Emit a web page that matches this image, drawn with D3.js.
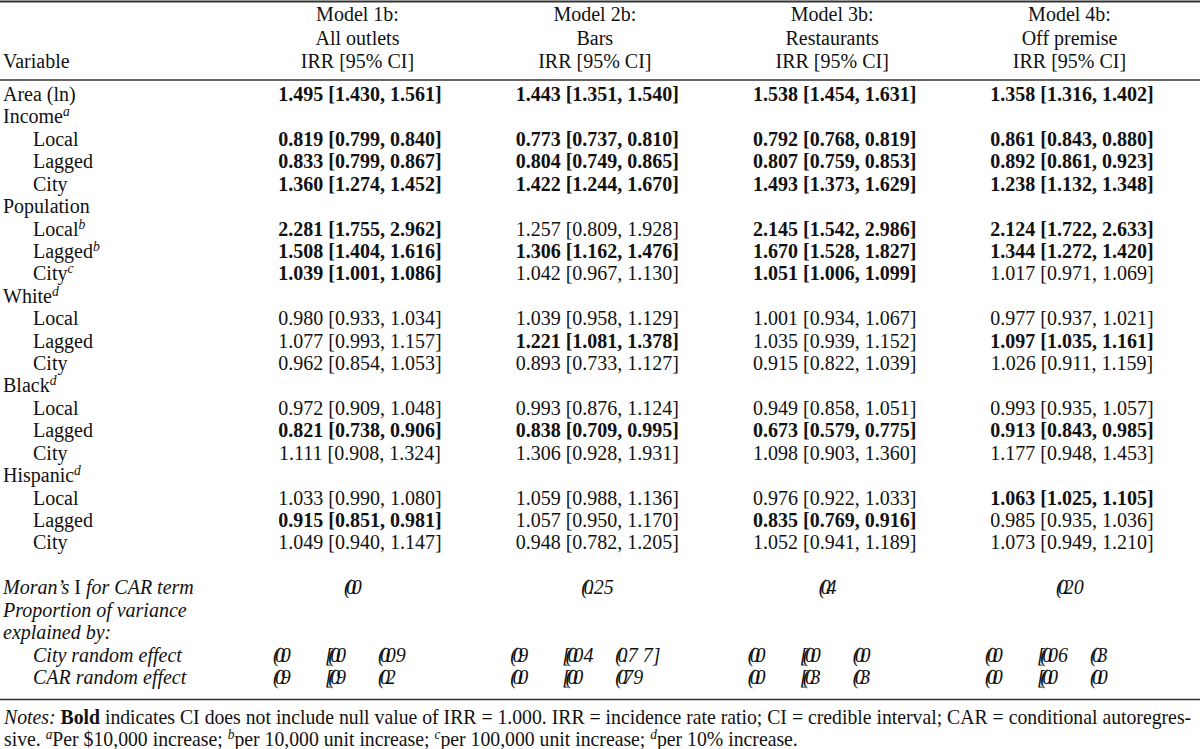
<!DOCTYPE html>
<html>
<head>
<meta charset="utf-8">
<script src="https://cdn.jsdelivr.net/npm/d3@7/dist/d3.min.js"></script>
<style>
  html, body { margin: 0; padding: 0; background: #fff; }
  svg { display: block; }
  text { font-family: "Liberation Serif", "Times New Roman", serif; fill: #111; }
</style>
</head>
<body>
<script>
// ---------------- DATA ----------------
const modelTitles = ["Model 1b:", "Model 2b:", "Model 3b:", "Model 4b:"];
const modelSubtitles = ["All outlets", "Bars", "Restaurants", "Off premise"];
const statLabel = "IRR [95% CI]";

const rowLabels = ["Area (ln)", "Income", "Local", "Lagged", "City",
  "Population", "Local", "Lagged", "City",
  "White", "Local", "Lagged", "City",
  "Black", "Local", "Lagged", "City",
  "Hispanic", "Local", "Lagged", "City"];
const rowSup = ["", "a", "", "", "", "", "b", "b", "c", "d", "", "", "", "d", "", "", "", "d", "", "", ""];
const rowLevel = [0, 0, 1, 1, 1, 0, 1, 1, 1, 0, 1, 1, 1, 0, 1, 1, 1, 0, 1, 1, 1];

// [IRR, lower, upper]
const model1 = [[1.495,1.430,1.561], null, [0.819,0.799,0.840], [0.833,0.799,0.867], [1.360,1.274,1.452],
  null, [2.281,1.755,2.962], [1.508,1.404,1.616], [1.039,1.001,1.086],
  null, [0.980,0.933,1.034], [1.077,0.993,1.157], [0.962,0.854,1.053],
  null, [0.972,0.909,1.048], [0.821,0.738,0.906], [1.111,0.908,1.324],
  null, [1.033,0.990,1.080], [0.915,0.851,0.981], [1.049,0.940,1.147]];
const model2 = [[1.443,1.351,1.540], null, [0.773,0.737,0.810], [0.804,0.749,0.865], [1.422,1.244,1.670],
  null, [1.257,0.809,1.928], [1.306,1.162,1.476], [1.042,0.967,1.130],
  null, [1.039,0.958,1.129], [1.221,1.081,1.378], [0.893,0.733,1.127],
  null, [0.993,0.876,1.124], [0.838,0.709,0.995], [1.306,0.928,1.931],
  null, [1.059,0.988,1.136], [1.057,0.950,1.170], [0.948,0.782,1.205]];
const model3 = [[1.538,1.454,1.631], null, [0.792,0.768,0.819], [0.807,0.759,0.853], [1.493,1.373,1.629],
  null, [2.145,1.542,2.986], [1.670,1.528,1.827], [1.051,1.006,1.099],
  null, [1.001,0.934,1.067], [1.035,0.939,1.152], [0.915,0.822,1.039],
  null, [0.949,0.858,1.051], [0.673,0.579,0.775], [1.098,0.903,1.360],
  null, [0.976,0.922,1.033], [0.835,0.769,0.916], [1.052,0.941,1.189]];
const model4 = [[1.358,1.316,1.402], null, [0.861,0.843,0.880], [0.892,0.861,0.923], [1.238,1.132,1.348],
  null, [2.124,1.722,2.633], [1.344,1.272,1.420], [1.017,0.971,1.069],
  null, [0.977,0.937,1.021], [1.097,1.035,1.161], [1.026,0.911,1.159],
  null, [0.993,0.935,1.057], [0.913,0.843,0.985], [1.177,0.948,1.453],
  null, [1.063,1.025,1.105], [0.985,0.935,1.036], [1.073,0.949,1.210]];
const models = [model1, model2, model3, model4];

// bottom block (glyphs rendered overlapped in the source, "|" separates overlapped part)
const moranI = ["(0.0|", "(0.|25", "(0.4|", "(0.2|0"];
const cityRE = [["(0.0|", "[(0.0|", "(0.0|9"], ["(0.9|", "[(0.0|4", "(0.|7 7]"], ["(0.0|", "[(0.0|", "(0.0|"], ["(0.0|", "[(0.0|6", "(0.3|"]];
const carRE  = [["(0.9|", "[(0.9|", "(0.2|"], ["(0.0|", "[(0.0|", "(0.7|9"], ["(0.0|", "[(0.3|", "(0.3|"], ["(0.0|", "[(0.0|", "(0.0|"]];

// ---------------- DRAW ----------------
const W = 1200, H = 749, FS = 20;
const svg = d3.select("body").append("svg").attr("width", W).attr("height", H);
svg.append("rect").attr("width", W).attr("height", H).attr("fill", "#fff");

const x = d3.scalePoint().domain(d3.range(4)).range([360, 1072]);
const y = d3.scaleLinear().domain([0, 1]).range([101, 123.42]);
const indentX = d3.scaleOrdinal().domain([0, 1]).range([3, 33]);
const fmt = d3.format(".3f");

// rules
const rules = [{y: 1.5, w: 2}, {y: 80, w: 1.6}, {y: 699.5, w: 1.6}];
svg.selectAll("line.rule").data(rules).join("line")
  .attr("x1", 0).attr("x2", W).attr("y1", d => d.y).attr("y2", d => d.y)
  .attr("stroke", "#333").attr("stroke-width", d => d.w);

// header
const hdr = svg.append("g").attr("font-size", FS);
hdr.append("text").attr("x", 3).attr("y", 68).text("Variable");
[modelTitles, modelSubtitles, modelTitles.map(() => statLabel)].forEach((arr, li) => {
  hdr.selectAll(null).data(arr).join("text")
    .attr("x", (d, i) => x(i) - 2.5).attr("y", 21 + li * 23.5)
    .attr("text-anchor", "middle").text(d => d);
});

// row labels
const lab = svg.append("g").attr("font-size", FS);
lab.selectAll("text").data(rowLabels).join("text")
  .attr("x", (d, i) => indentX(rowLevel[i])).attr("y", (d, i) => y(i))
  .each(function(d, i) {
    const t = d3.select(this);
    t.append("tspan").text(d);
    if (rowSup[i]) t.append("tspan").attr("font-style", "italic")
      .attr("font-size", FS * 0.68).attr("dy", -7).text(rowSup[i]);
  });

// cells
models.forEach((m, mi) => {
  svg.append("g").attr("font-size", FS)
    .selectAll("text").data(m.map((v, i) => ({v, i})).filter(d => d.v)).join("text")
    .attr("x", x(mi)).attr("y", d => y(d.i)).attr("text-anchor", "middle")
    .attr("font-weight", d => (d.v[1] > 1 || d.v[2] < 1) ? "bold" : "normal")
    .text(d => `${fmt(d.v[0])} [${fmt(d.v[1])}, ${fmt(d.v[2])}]`);
});

// bottom italic block
const bot = svg.append("g").attr("font-size", FS).attr("font-style", "italic");
const mt = bot.append("text").attr("x", 3).attr("y", y(22));
mt.append("tspan").text("Moran’s ");
mt.append("tspan").attr("font-style", "normal").text("I");
mt.append("tspan").text(" for CAR term");
bot.append("text").attr("x", 3).attr("y", y(23)).text("Proportion of variance");
bot.append("text").attr("x", 3).attr("y", y(24)).text("explained by:");
bot.append("text").attr("x", 33).attr("y", y(25)).text("City random effect");
bot.append("text").attr("x", 33).attr("y", y(26)).text("CAR random effect");

function token(g, xx, yy, s) {
  const [blob, tail] = s.split("|");
  const t = g.append("text").attr("x", xx).attr("y", yy);
  t.append("tspan").attr("letter-spacing", -4.6).text(blob);
  if (tail) t.append("tspan").attr("letter-spacing", 0).attr("dx", 4.6).text(tail);
}
moranI.forEach((s, i) => token(bot, x(i) - 16, y(22), s));
const subOff = [-87, -35, 18];
cityRE.forEach((arr, i) => arr.forEach((s, k) => token(bot, x(i) + subOff[k], y(25), s)));
carRE.forEach((arr, i) => arr.forEach((s, k) => token(bot, x(i) + subOff[k], y(26), s)));

// notes
const notes = svg.append("g").attr("font-size", FS);
const n1 = notes.append("text").attr("y", 0);
n1.append("tspan").attr("font-style", "italic").text("Notes:");
n1.append("tspan").text(" ");
n1.append("tspan").attr("font-weight", "bold").text("Bold");
n1.append("tspan").text(" indicates CI does not include null value of IRR = 1.000. IRR = incidence rate ratio; CI = credible interval; CAR = conditional autoregres-");
const n2 = notes.append("text").attr("y", 0);
const parts2 = [["sive. ", false], ["a", true], ["Per $10,000 increase; ", false], ["b", true], ["per 10,000 unit increase; ", false],
  ["c", true], ["per 100,000 unit increase; ", false], ["d", true], ["per 10% increase.", false]];
let up = false;
parts2.forEach(([t, sup]) => {
  const ts = n2.append("tspan").text(t);
  if (sup) { ts.attr("font-style", "italic").attr("font-size", FS * 0.68).attr("dy", -7); up = true; }
  else if (up) { ts.attr("dy", 7); up = false; }
});
const w1 = n1.node().getComputedTextLength();
const sc = (1192 - 4) / w1;
n1.attr("transform", `translate(4,724) scale(${sc},1)`);
n2.attr("transform", `translate(4,746) scale(${sc},1)`);
</script>
</body>
</html>
